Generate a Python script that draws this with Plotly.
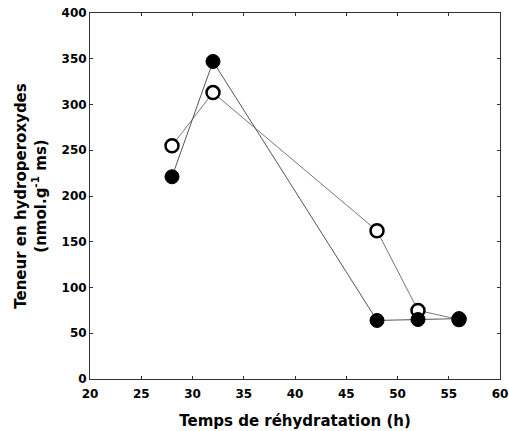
import plotly.graph_objects as go

hours = [28, 32, 48, 52, 56]
filled_vals = [221, 347, 64, 65, 66]
open_vals = [255, 313, 162, 75, 65]

x_ticks = [20, 25, 30, 35, 40, 45, 50, 55, 60]
y_ticks = [0, 50, 100, 150, 200, 250, 300, 350, 400]

fig = go.Figure()
fig.add_trace(go.Scatter(
    x=hours, y=open_vals, mode="lines+markers",
    line=dict(color="#777777", width=1),
    marker=dict(symbol="circle", size=13, color="white", line=dict(color="black", width=2.5)),
    showlegend=False))
fig.add_trace(go.Scatter(
    x=hours, y=filled_vals, mode="lines+markers",
    line=dict(color="#555555", width=1),
    marker=dict(symbol="circle", size=14, color="black", line=dict(color="black", width=1)),
    showlegend=False))

tick_family = "DejaVu Sans"
title_family = "DejaVu Sans"
fig.update_layout(
    width=509, height=431,
    margin=dict(l=90, r=9, t=13, b=52),
    paper_bgcolor="white", plot_bgcolor="white",
    font=dict(family=tick_family, color="black"),
)
fig.update_xaxes(
    range=[20, 60], tickvals=x_ticks, ticktext=[f"<b>{v}</b>" for v in x_ticks],
    automargin=False, ticklabeloverflow="allow", ticklabelstandoff=4,
    showgrid=False, zeroline=False, showline=True, linecolor="#333333", linewidth=1,
    mirror="ticks", ticks="inside", ticklen=3, tickcolor="#333333",
    tickfont=dict(size=12, family=tick_family, weight="bold"),
    title=dict(text="<b>Temps de réhydratation (h)</b>", font=dict(size=15, family=title_family), standoff=15),
)
fig.update_yaxes(
    range=[0, 400], tickvals=y_ticks, ticktext=[f"<b>{v}</b>" for v in y_ticks],
    automargin=False, ticklabeloverflow="allow",
    showgrid=False, zeroline=False, showline=True, linecolor="#333333", linewidth=1,
    mirror="ticks", ticks="inside", ticklen=3, tickcolor="#333333",
    tickfont=dict(size=12, family=tick_family, weight="bold"),
    title=dict(text="<b>Teneur en hydroperoxydes<br>(nmol.g<sup>-1</sup> ms)</b>", font=dict(size=15, family=title_family), standoff=11),
)
fig.write_html("out.html", config={"displayModeBar": False},
               post_script="document.body.style.margin='0';document.body.style.overflow='hidden';")
